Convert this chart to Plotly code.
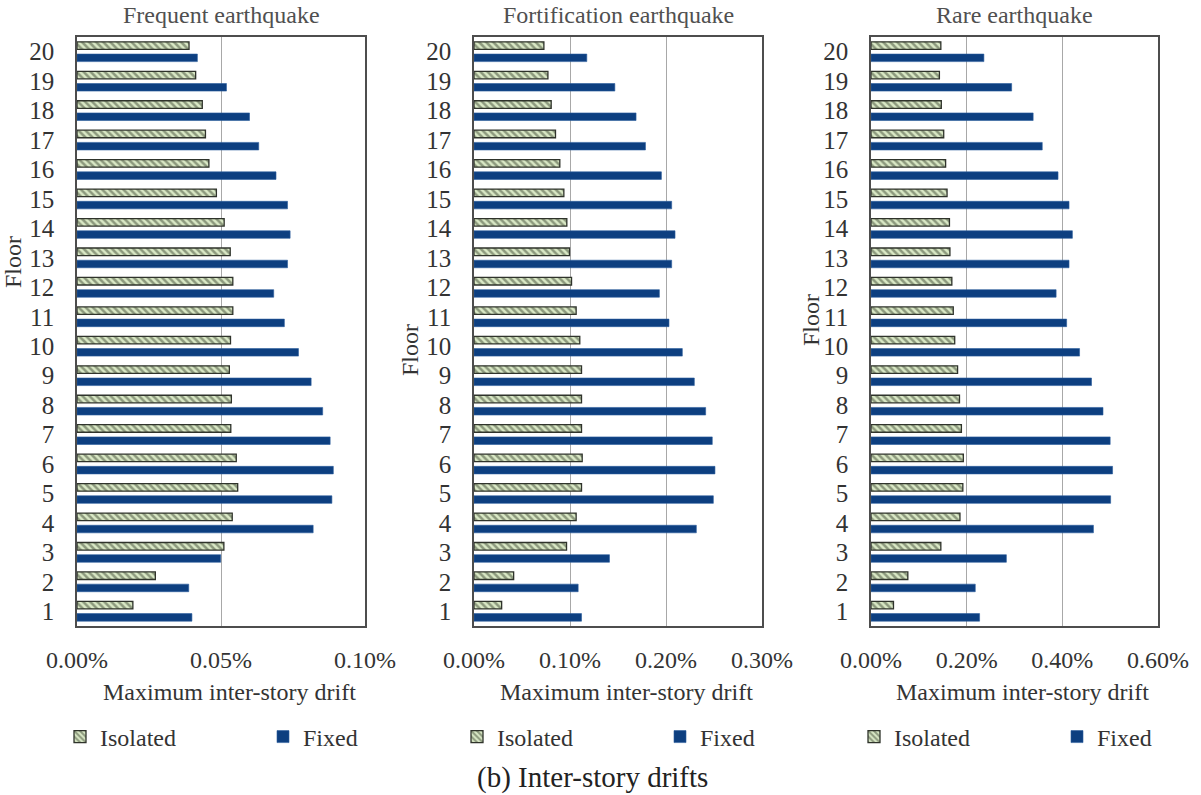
import plotly.graph_objects as go

floors = list(range(1, 21))

# Maximum inter-story drift (%) per floor, floor 1 .. floor 20
freq_isolated = [0.0194, 0.0272, 0.0510, 0.0539, 0.0558, 0.0553, 0.0534, 0.0536, 0.0529, 0.0533,
                 0.0541, 0.0541, 0.0532, 0.0511, 0.0484, 0.0458, 0.0446, 0.0435, 0.0412, 0.0389]
freq_fixed = [0.0399, 0.0388, 0.0499, 0.0820, 0.0885, 0.0890, 0.0879, 0.0853, 0.0813, 0.0769,
              0.0720, 0.0683, 0.0731, 0.0740, 0.0731, 0.0691, 0.0631, 0.0599, 0.0519, 0.0418]

fort_isolated = [0.0288, 0.0413, 0.0964, 0.1064, 0.1120, 0.1127, 0.1120, 0.1120, 0.1120, 0.1102,
                 0.1064, 0.1016, 0.0995, 0.0967, 0.0936, 0.0894, 0.0849, 0.0804, 0.0770, 0.0728]
fort_fixed = [0.1120, 0.1085, 0.1411, 0.2316, 0.2493, 0.2510, 0.2482, 0.2413, 0.2295, 0.2170,
              0.2031, 0.1931, 0.2059, 0.2094, 0.2059, 0.1952, 0.1786, 0.1688, 0.1467, 0.1175]

rare_isolated = [0.047, 0.077, 0.146, 0.186, 0.192, 0.193, 0.189, 0.185, 0.181, 0.175,
                 0.172, 0.169, 0.165, 0.164, 0.159, 0.156, 0.152, 0.147, 0.143, 0.146]
rare_fixed = [0.227, 0.218, 0.283, 0.465, 0.501, 0.505, 0.500, 0.485, 0.461, 0.436,
              0.409, 0.387, 0.414, 0.421, 0.414, 0.391, 0.358, 0.339, 0.294, 0.236]

panel_titles = ["Frequent earthquake", "Fortification earthquake", "Rare earthquake"]
x_ticks = [[0, 0.05, 0.10], [0, 0.10, 0.20, 0.30], [0, 0.20, 0.40, 0.60]]
x_ranges = [[0, 0.10], [0, 0.30], [0, 0.60]]
x_title = "Maximum inter-story drift"
series_names = ["Isolated", "Fixed"]
caption = "(b) Inter-story drifts"

panels = [(freq_isolated, freq_fixed), (fort_isolated, fort_fixed), (rare_isolated, rare_fixed)]

W, H = 1201, 795
FONT = "Liberation Serif, Times New Roman, serif"
TXT = "#333333"
FIXED_COLOR = "#0d3f80"

# plot-area boxes in pixels: (left, right)
boxes = [(77, 365), (474, 762), (871, 1158)]
top_px, bottom_px = 37, 626
ydom = [1 - bottom_px / H, 1 - top_px / H]

fig = go.Figure()

for i, (iso, fix) in enumerate(panels):
    ax = "" if i == 0 else str(i + 1)
    leg = "legend" if i == 0 else f"legend{i + 1}"
    fig.add_trace(go.Bar(
        x=fix, y=floors, orientation="h", name=series_names[1],
        xaxis="x" + ax, yaxis="y" + ax, legend=leg, legendrank=2,
        marker=dict(color=FIXED_COLOR, line=dict(color="#2a5c9c", width=0.6)),
    ))
    fig.add_trace(go.Bar(
        x=iso, y=floors, orientation="h", name=series_names[0],
        xaxis="x" + ax, yaxis="y" + ax, legend=leg, legendrank=1,
        marker=dict(
            color="#d6e6c2",
            line=dict(color="#2f332b", width=1.3),
            pattern=dict(shape="\\", fgcolor="#3f4a36", bgcolor="#d9e8c5",
                         size=5, solidity=0.5),
        ),
    ))

layout = dict(
    width=W, height=H,
    margin=dict(l=0, r=0, t=0, b=0, autoexpand=False),
    paper_bgcolor="white", plot_bgcolor="white",
    barmode="group", bargap=0.17, bargroupgap=0.38,
    font=dict(family=FONT, size=24, color=TXT),
    annotations=[],
)

for i in range(3):
    ax = "" if i == 0 else str(i + 1)
    l, r = boxes[i]
    layout["xaxis" + ax] = dict(
        domain=[l / W, r / W], range=x_ranges[i], anchor="y" + ax,
        tickvals=x_ticks[i], ticktext=[f"{v:.2f}%" for v in x_ticks[i]],
        showgrid=True, gridcolor="#a8a8a8", gridwidth=1.3,
        showline=True, linecolor="#4d4d4d", linewidth=1.6, mirror=True,
        ticks="", ticklabelstandoff=11, zeroline=False, automargin=False,
        tickfont=dict(size=24, color=TXT, family=FONT),
    )
    layout["yaxis" + ax] = dict(
        domain=ydom, range=[0.5, 20.5], anchor="x" + ax,
        tickvals=floors, showgrid=False,
        showline=True, linecolor="#4d4d4d", linewidth=1.6, mirror=True,
        ticks="", ticklabelstandoff=16, zeroline=False, automargin=False,
        tickfont=dict(size=25, color=TXT, family=FONT),
    )
    cx = (l + r) / 2
    layout["annotations"].append(dict(
        text=panel_titles[i], x=cx / W, y=1 - 15 / H, xref="paper", yref="paper",
        showarrow=False, font=dict(size=24, color="#505050", family=FONT),
        xanchor="center", yanchor="middle",
    ))
    layout["annotations"].append(dict(
        text=x_title, x=(cx + 8) / W, y=1 - 692 / H, xref="paper", yref="paper",
        showarrow=False, font=dict(size=24, color=TXT, family=FONT),
        xanchor="center", yanchor="middle",
    ))
    legkey = "legend" if i == 0 else f"legend{i + 1}"
    layout[legkey] = dict(
        orientation="h", x=(l - 17) / W, y=1 - 737 / H,
        xanchor="left", yanchor="middle",
        entrywidth=158, entrywidthmode="pixels",
        bgcolor="rgba(0,0,0,0)", font=dict(size=24, color=TXT, family=FONT),
        itemclick=False, itemdoubleclick=False, traceorder="normal",
    )

# "Floor" axis labels
for xp, yp in [(13, 262), (410, 350), (811, 320)]:
    layout["annotations"].append(dict(
        text="Floor", x=xp / W, y=1 - yp / H, xref="paper", yref="paper",
        showarrow=False, textangle=-90, font=dict(size=24, color=TXT, family=FONT),
        xanchor="center", yanchor="middle",
    ))

layout["annotations"].append(dict(
    text=caption, x=592 / W, y=1 - 777 / H, xref="paper", yref="paper",
    showarrow=False, font=dict(size=29, color="#222222", family=FONT),
    xanchor="center", yanchor="middle",
))

fig.update_layout(**layout)
fig.write_html("out.html")
